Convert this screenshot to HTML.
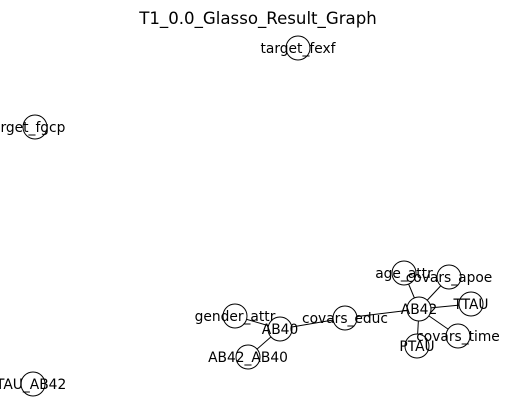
<!DOCTYPE html>
<html><head><meta charset="utf-8"><style>
html,body{margin:0;padding:0;background:#fff;}
svg{display:block;font-family:"DejaVu Sans","Liberation Sans",sans-serif;}
</style></head><body>
<svg id="chart" width="515" height="411" viewBox="0 0 515 411">
<text x="258" y="24" text-anchor="middle" font-size="16.6">T1_0.0_Glasso_Result_Graph</text>
<g id="edges"></g>
<g id="nodes"></g>
</svg>
<script>
const nodeNames = ["target_fexf","target_fgcp","TTAU_AB42","age_attr","covars_apoe","TTAU","AB42","covars_time","PTAU","covars_educ","AB40","gender_attr","AB42_AB40"];
const nodeX = [298,35,33,404,449,471,419,458,417,345,280,235,248];
const nodeY = [48,127,384,273,277,304,309,336,346,318,329,316,357];
const edgeFrom = ["AB42","AB42","AB42","AB42","AB42","AB42","covars_educ","AB40","AB40"];
const edgeTo = ["age_attr","covars_apoe","TTAU","covars_time","PTAU","covars_educ","AB40","gender_attr","AB42_AB40"];
const labelShift = {"target_fgcp":-9,"TTAU_AB42":-6};
const NS="http://www.w3.org/2000/svg";
const eg=document.getElementById('edges'), ng=document.getElementById('nodes');
function idx(n){return nodeNames.indexOf(n);}
for(let i=0;i<edgeFrom.length;i++){
  const a=idx(edgeFrom[i]), b=idx(edgeTo[i]);
  const l=document.createElementNS(NS,'line');
  l.setAttribute('x1',nodeX[a]);l.setAttribute('y1',nodeY[a]);
  l.setAttribute('x2',nodeX[b]);l.setAttribute('y2',nodeY[b]);
  l.setAttribute('stroke','#000');l.setAttribute('stroke-width','1');
  
  
  eg.appendChild(l);
}
for(let i=0;i<nodeNames.length;i++){
  const c=document.createElementNS(NS,'circle');
  c.setAttribute('cx',nodeX[i]);c.setAttribute('cy',nodeY[i]);c.setAttribute('r',12);
  c.setAttribute('fill','#fff');c.setAttribute('stroke','#000');c.setAttribute('stroke-width','1');
  
  
  ng.appendChild(c);
}
for(let i=0;i<nodeNames.length;i++){
  const t=document.createElementNS(NS,'text');
  t.setAttribute('x',nodeX[i]+(labelShift[nodeNames[i]]||0));t.setAttribute('y',nodeY[i]+5);
  t.setAttribute('text-anchor','middle');t.setAttribute('font-size','13.8');
  t.textContent=nodeNames[i];
  
  
  ng.appendChild(t);
}
</script>
</body></html>
